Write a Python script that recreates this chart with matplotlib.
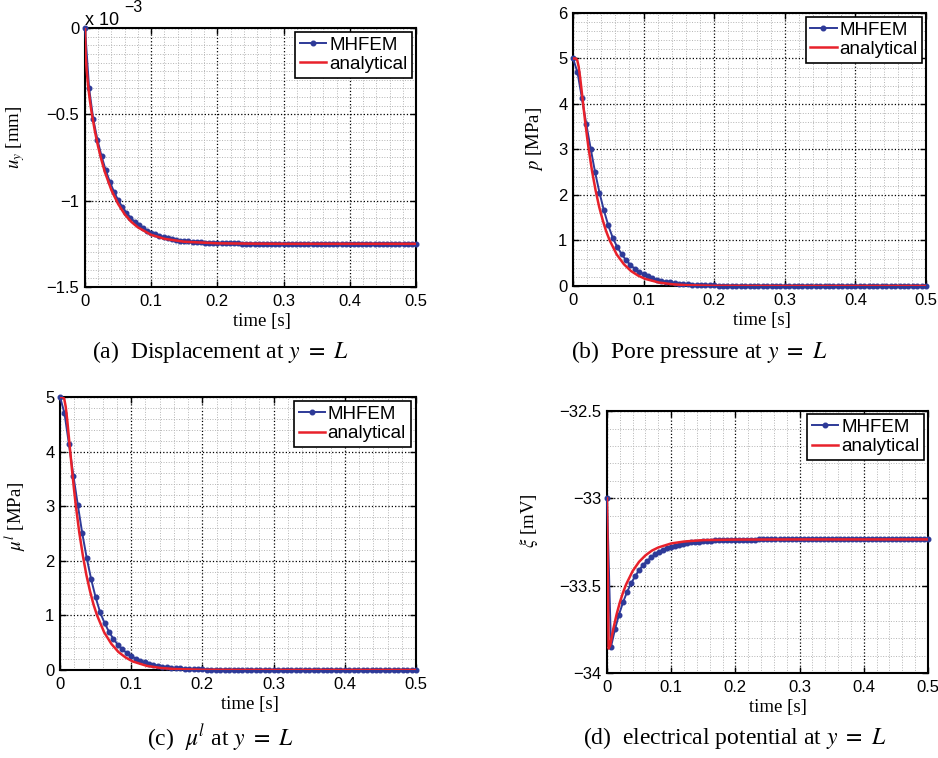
import numpy as np
import matplotlib
matplotlib.use("Agg")
import matplotlib.pyplot as plt
from matplotlib.ticker import MultipleLocator, FuncFormatter

plt.rcParams['font.family'] = ['Liberation Sans', 'DejaVu Sans']
plt.rcParams['mathtext.fontset'] = 'stix'

# MHFEM time steps (dt = 0.00625 s)
t_mhfem = np.linspace(0, 0.5, 81)

# (a) displacement u_y at y = L, in 1e-3 mm
uy_mhfem = [
    0.000, -0.350, -0.528, -0.646, -0.742, -0.823, -0.890, -0.948, -0.996, -1.036,
    -1.070, -1.098, -1.123, -1.143, -1.160, -1.174, -1.186, -1.196, -1.205, -1.212,
    -1.218, -1.223, -1.227, -1.231, -1.234, -1.236, -1.239, -1.240, -1.242, -1.243,
    -1.244, -1.245, -1.246, -1.246, -1.247, -1.247, -1.248, -1.248, -1.249, -1.249,
    -1.249, -1.249, -1.249, -1.250, -1.250, -1.250, -1.250, -1.250, -1.250, -1.250,
    -1.250, -1.250, -1.250, -1.250, -1.250, -1.250, -1.250, -1.250, -1.250, -1.250,
    -1.250, -1.250, -1.250, -1.250, -1.250, -1.250, -1.250, -1.250, -1.250, -1.250,
    -1.250, -1.250, -1.250, -1.250, -1.250, -1.250, -1.250, -1.250, -1.250, -1.250,
    -1.250,
]
t_uy_exact = [0, 0.001, 0.0025, 0.005, 0.0075, 0.01, 0.015, 0.02, 0.025, 0.03, 0.04,
              0.05, 0.06, 0.07, 0.08, 0.1, 0.12, 0.15, 0.2, 0.25, 0.3, 0.4, 0.5]
uy_exact = [0.000, -0.154, -0.244, -0.345, -0.423, -0.489, -0.599, -0.690, -0.766,
            -0.834, -0.940, -1.019, -1.079, -1.123, -1.155, -1.198, -1.221, -1.238,
            -1.247, -1.249, -1.250, -1.250, -1.250]

# (b) pore pressure p and (c) chemical potential mu^l at y = L, in MPa
p_mhfem = [
    5.00, 4.70, 4.14, 3.56, 3.02, 2.50, 2.05, 1.66, 1.33, 1.06,
    0.86, 0.70, 0.57, 0.46, 0.38, 0.31, 0.255, 0.21, 0.172, 0.141,
    0.116, 0.095, 0.078, 0.064, 0.052, 0.043, 0.035, 0.029, 0.024, 0.019,
    0.016, 0.013, 0.011, 0.009, 0.007, 0.006, 0.005, 0.004, 0.003, 0.003,
    0.002, 0.002, 0.001, 0.001, 0.0, 0.0, 0.0, 0.0, 0.0, 0.0,
    0.0, 0.0, 0.0, 0.0, 0.0, 0.0, 0.0, 0.0, 0.0, 0.0,
    0.0, 0.0, 0.0, 0.0, 0.0, 0.0, 0.0, 0.0, 0.0, 0.0,
    0.0, 0.0, 0.0, 0.0, 0.0, 0.0, 0.0, 0.0, 0.0, 0.0,
    0.0,
]
mu_mhfem = [
    5.00, 4.70, 4.14, 3.56, 3.02, 2.50, 2.05, 1.66, 1.33, 1.06,
    0.86, 0.70, 0.57, 0.46, 0.38, 0.31, 0.255, 0.21, 0.172, 0.141,
    0.116, 0.095, 0.078, 0.064, 0.052, 0.043, 0.035, 0.029, 0.024, 0.019,
    0.016, 0.013, 0.011, 0.009, 0.007, 0.006, 0.005, 0.004, 0.003, 0.003,
    0.002, 0.002, 0.001, 0.001, 0.0, 0.0, 0.0, 0.0, 0.0, 0.0,
    0.0, 0.0, 0.0, 0.0, 0.0, 0.0, 0.0, 0.0, 0.0, 0.0,
    0.0, 0.0, 0.0, 0.0, 0.0, 0.0, 0.0, 0.0, 0.0, 0.0,
    0.0, 0.0, 0.0, 0.0, 0.0, 0.0, 0.0, 0.0, 0.0, 0.0,
    0.0,
]
t_p_exact = [0, 0.002, 0.004, 0.006, 0.008, 0.01, 0.012, 0.0145, 0.017, 0.0195, 0.022,
             0.027, 0.032, 0.037, 0.042, 0.047, 0.052, 0.062, 0.072, 0.082, 0.092,
             0.102, 0.122, 0.142, 0.162, 0.2, 0.25, 0.3, 0.4, 0.5]
p_exact = [5.00, 5.00, 5.00, 4.96, 4.82, 4.59, 4.32, 3.975, 3.64, 3.325, 3.03,
           2.52, 2.10, 1.74, 1.45, 1.20, 1.00, 0.69, 0.48, 0.33, 0.23,
           0.157, 0.075, 0.036, 0.017, 0.004, 0.001, 0.0, 0.0, 0.0]
mu_exact = [5.00, 5.00, 5.00, 4.96, 4.82, 4.59, 4.32, 3.975, 3.64, 3.325, 3.03,
            2.52, 2.10, 1.74, 1.45, 1.20, 1.00, 0.69, 0.48, 0.33, 0.23,
            0.157, 0.075, 0.036, 0.017, 0.004, 0.001, 0.0, 0.0, 0.0]

# (d) electrical potential xi at y = L, in mV
xi_mhfem = [
    -33.000, -33.850, -33.749, -33.665, -33.595, -33.536, -33.487, -33.446, -33.411, -33.382,
    -33.358, -33.338, -33.321, -33.307, -33.295, -33.285, -33.277, -33.270, -33.265, -33.260,
    -33.256, -33.252, -33.249, -33.247, -33.245, -33.243, -33.242, -33.241, -33.240, -33.239,
    -33.238, -33.238, -33.237, -33.237, -33.236, -33.236, -33.236, -33.236, -33.235, -33.235,
    -33.235, -33.235, -33.235, -33.235, -33.235, -33.235, -33.235, -33.235, -33.235, -33.235,
    -33.235, -33.235, -33.235, -33.235, -33.235, -33.235, -33.235, -33.235, -33.235, -33.235,
    -33.235, -33.235, -33.235, -33.235, -33.235, -33.235, -33.235, -33.235, -33.235, -33.235,
    -33.235, -33.235, -33.235, -33.235, -33.235, -33.235, -33.235, -33.235, -33.235, -33.235,
    -33.235,
]
t_xi_exact = [0, 0.0025, 0.005, 0.0075, 0.01, 0.015, 0.02, 0.025, 0.03, 0.04, 0.05,
              0.06, 0.07, 0.08, 0.1, 0.12, 0.15, 0.2, 0.3, 0.4, 0.5]
xi_exact = [-33.000, -33.860, -33.841, -33.791, -33.745, -33.664, -33.596, -33.539,
            -33.491, -33.416, -33.363, -33.326, -33.299, -33.281, -33.258, -33.247,
            -33.239, -33.236, -33.235, -33.235, -33.235]

BLUE = '#2e3a98'
RED = '#e8212b'
SERIF = ['Liberation Serif', 'DejaVu Serif']


def tick_fmt(v, pos):
    if abs(v) < 1e-12:
        return '0'
    return f'{v:g}'.replace('-', '\u2212')


def draw_panel(ax, t_num, y_num, t_ex, y_ex, ylim, ymajor, yminor, ylabel,
               ylabel_xy, xlabel_y, legend_xy):
    ax.plot(t_num, y_num, '-', color=BLUE, lw=1.4, marker='o', ms=3.3,
            label='MHFEM', clip_on=False, zorder=3)
    ax.plot(t_ex, y_ex, '-', color=RED, lw=1.8, label='analytical', zorder=4)

    ax.set_xlim(0, 0.5)
    ax.set_ylim(*ylim)
    ax.xaxis.set_major_locator(MultipleLocator(0.1))
    ax.xaxis.set_minor_locator(MultipleLocator(0.02))
    ax.yaxis.set_major_locator(MultipleLocator(ymajor))
    ax.yaxis.set_minor_locator(MultipleLocator(yminor))
    ax.xaxis.set_major_formatter(FuncFormatter(tick_fmt))
    ax.yaxis.set_major_formatter(FuncFormatter(tick_fmt))

    ax.set_axisbelow(True)
    ax.grid(which='minor', color='#b4b4b4', linestyle=':', linewidth=0.7)
    ax.grid(which='major', color='black', linestyle=':', linewidth=0.9)
    ax.tick_params(which='major', direction='in', top=True, right=True,
                   length=4, width=1, labelsize=12, pad=4)
    ax.tick_params(axis='x', which='major', pad=5)
    ax.tick_params(which='minor', length=0)
    for s in ax.spines.values():
        s.set_linewidth(1.5)

    ax.set_xlabel('time [s]', family=SERIF, fontsize=13.5)
    ax.xaxis.set_label_coords(0.534, xlabel_y)
    ax.set_ylabel(ylabel, family=SERIF, fontsize=13.5)
    ax.yaxis.set_label_coords(*ylabel_xy)

    leg = ax.legend(loc='upper right', bbox_to_anchor=legend_xy, borderaxespad=0,
                    fontsize=13.5, fancybox=False, framealpha=1, edgecolor='black',
                    handlelength=1.4, handletextpad=0.15, borderpad=0.25,
                    labelspacing=0.12)
    leg.get_frame().set_linewidth(1.2)


fig = plt.figure(figsize=(9.38, 7.58), dpi=100)

ax_a = fig.add_axes([0.0906, 0.6214, 0.3529, 0.3417])
ax_b = fig.add_axes([0.6109, 0.6227, 0.3763, 0.3602])
ax_c = fig.add_axes([0.0640, 0.1161, 0.3795, 0.3602])
ax_d = fig.add_axes([0.6471, 0.1121, 0.3422, 0.3456])

draw_panel(ax_a, t_mhfem, uy_mhfem, t_uy_exact, uy_exact, (-1.5, 0), 0.5, 0.05,
           r'$u_y$ [mm]', (-0.175, 0.577), -0.100, (0.988, 0.985))
draw_panel(ax_b, t_mhfem, p_mhfem, t_p_exact, p_exact, (0, 6), 1, 0.2,
           r'$p$ [MPa]', (-0.079, 0.538), -0.095, (0.9895, 0.986))
draw_panel(ax_c, t_mhfem, mu_mhfem, t_p_exact, mu_exact, (0, 5), 1, 0.2,
           r'$\mu^l$ [MPa]', (-0.09, 0.564), -0.095, (0.985, 0.985))
draw_panel(ax_d, t_mhfem, xi_mhfem, t_xi_exact, xi_exact, (-34, -32.5), 0.5, 0.1,
           r'$\xi$ [mV]', (-0.209, 0.58), -0.099, (0.9875, 0.9885))

# exponent for the displacement axis
ax_a.text(0.0, 1.012, 'x 10', transform=ax_a.transAxes, fontsize=13,
          ha='left', va='baseline')
ax_a.text(0.118, 1.062, '\u22123', transform=ax_a.transAxes, fontsize=11.5,
          ha='left', va='baseline')

# sub-captions
captions = [
    (0.2345, 1 - 352 / 758, r'(a)  Displacement at $y\ =\ L$'),
    (0.745, 1 - 352 / 758, r'(b)  Pore pressure at $y\ =\ L$'),
    (0.2345, 1 - 738 / 758, r'(c)  $\mu^l$ at $y\ =\ L$'),
    (0.7833, 1 - 738 / 758, r'(d)  electrical potential at $y\ =\ L$'),
]
for x, y, s in captions:
    fig.text(x, y, s, ha='center', va='center', family=SERIF, fontsize=17)

fig.savefig('out.png', dpi=100)
